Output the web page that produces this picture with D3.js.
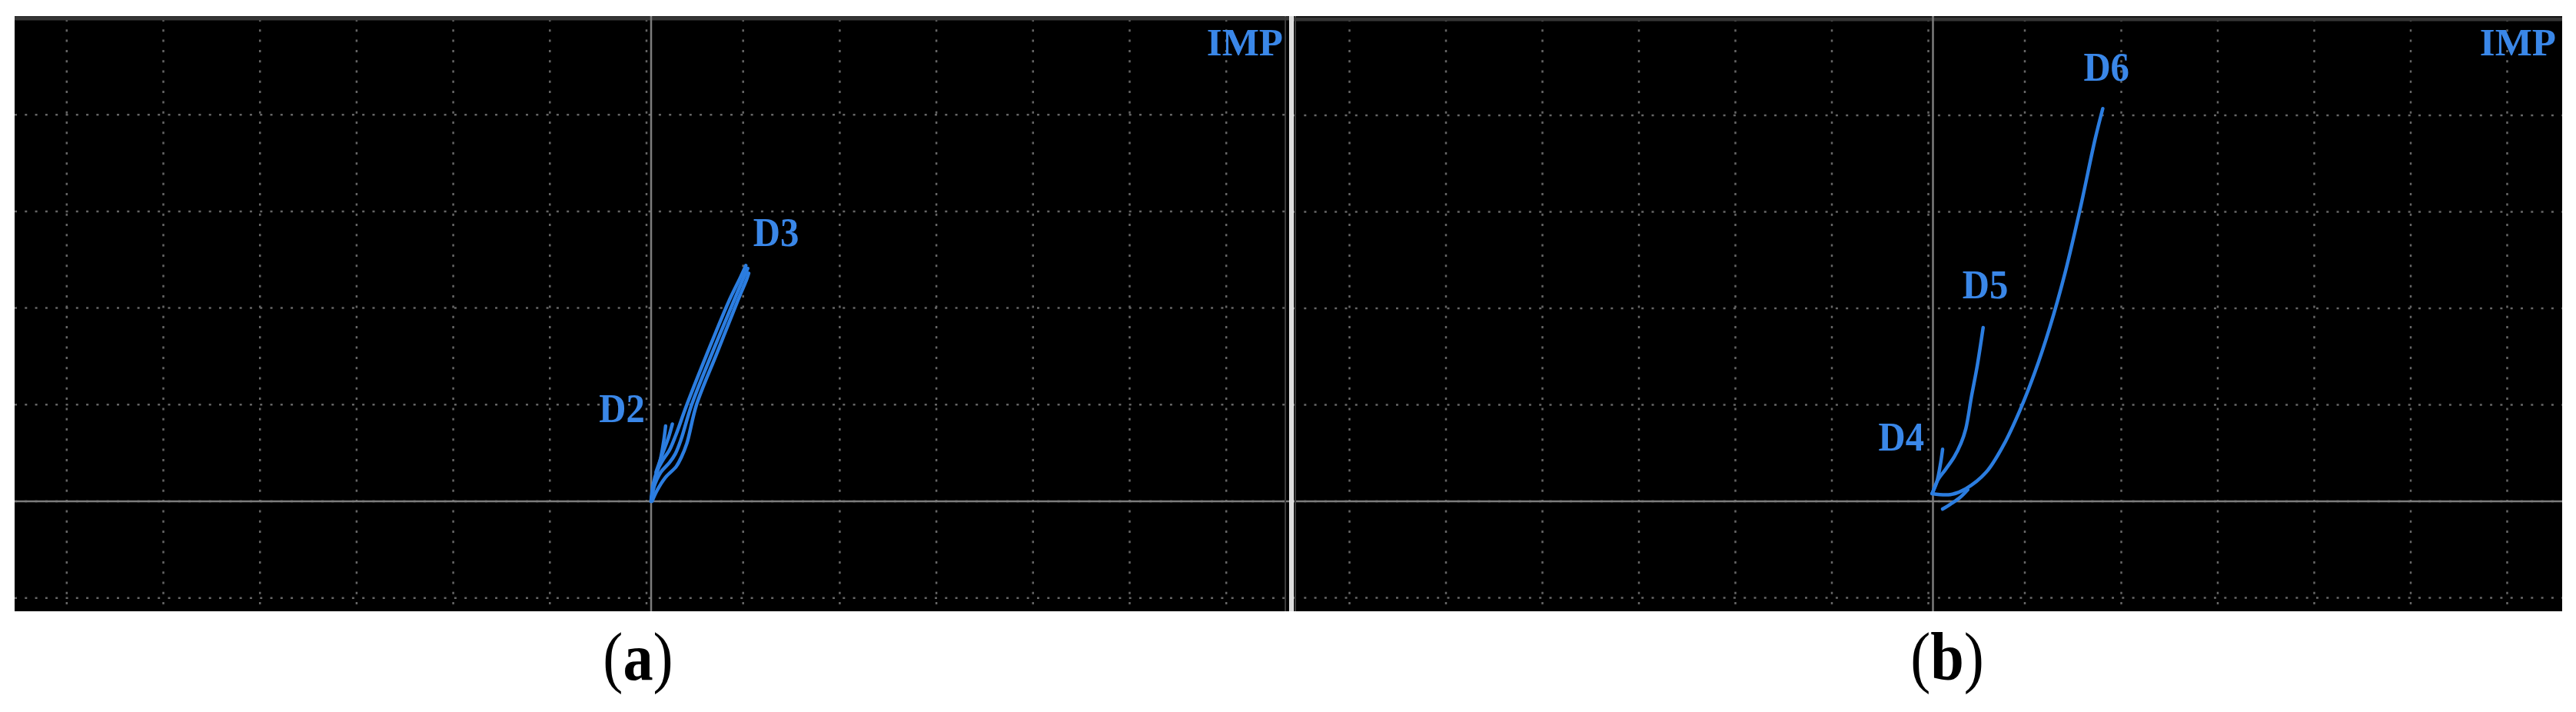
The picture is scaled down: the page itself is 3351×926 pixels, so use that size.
<!DOCTYPE html>
<html>
<head>
<meta charset="utf-8">
<script src="https://cdn.jsdelivr.net/npm/d3@7"></script>
<style>
  body { margin: 0; background: #fff; }
  text { font-family: "Liberation Serif", "Times New Roman", serif; }
</style>
</head>
<body>
<script>
// screen divisions of the analyser display
const gridX = [-6, -5, -4, -3, -2, -1, 0, 1, 2, 3, 4, 5, 6];
const gridY = [-1, 0, 1, 2, 3, 4];
const topDiv = 5;

// panel (a) traces, [x div, y div]
const d2Main = [[0, 0.02], [0.05, 0.25], [0.1, 0.45], [0.13, 0.62], [0.15, 0.78]];
const d2Side = [[0.05, 0.3], [0.12, 0.5], [0.18, 0.66], [0.22, 0.8]];
const d3Left = [[0, 0], [0.02, 0.17], [0.06, 0.31], [0.13, 0.44], [0.19, 0.53], [0.25, 0.67], [0.37, 1.0], [0.58, 1.53], [0.8, 2.06], [0.93, 2.33], [0.98, 2.44]];
const d3Mid = [[0, 0], [0.03, 0.15], [0.1, 0.3], [0.19, 0.4], [0.25, 0.49], [0.31, 0.64], [0.42, 1.0], [0.63, 1.53], [0.85, 2.06], [0.96, 2.32], [1.0, 2.41]];
const d3Right = [[0.01, 0], [0.06, 0.11], [0.15, 0.25], [0.26, 0.36], [0.31, 0.45], [0.37, 0.6], [0.47, 1.0], [0.68, 1.53], [0.89, 2.06], [0.99, 2.3], [1.01, 2.36]];

// panel (b) traces
const d4 = [[-0.01, 0.08], [0.04, 0.2], [0.08, 0.4], [0.1, 0.54]];
const d5 = [[0, 0.1], [0.05, 0.22], [0.13, 0.33], [0.22, 0.46], [0.29, 0.6], [0.34, 0.75], [0.4, 1.09], [0.46, 1.41], [0.52, 1.8]];
const d6 = [[-0.01, 0.08], [0.18, 0.07], [0.34, 0.13], [0.55, 0.3], [0.73, 0.58], [0.9, 0.94], [1.05, 1.32], [1.21, 1.8], [1.37, 2.37], [1.53, 3.05], [1.68, 3.75], [1.76, 4.07]];
const d6Hook = [[0.1, -0.08], [0.18, -0.03], [0.28, 0.04], [0.36, 0.12]];

const W = 3351, H = 926;
const scrTop = 21, scrBottom = 795, oy = 652;
const blue = "#2b7de0", labelBlue = "#3a87e8";

const panels = [
  { key: "a", left: 19, right: 1677, ox: 847, unit: 125.7, capX: 830,
    traces: [d2Main, d2Side, d3Left, d3Mid, d3Right],
    labels: [
      { text: "D2", at: d2Main, dx: -27, dy: -5, anchor: "end" },
      { text: "D3", at: d3Mid, dx: 7, dy: -29, anchor: "start" }
    ] },
  { key: "b", left: 1683, right: 3333, ox: 2514.5, unit: 125.5, capX: 2533,
    traces: [d4, d5, d6, d6Hook],
    labels: [
      { text: "D4", at: d4, dx: -24, dy: 2, anchor: "end" },
      { text: "D5", at: d5, dx: -27, dy: -38, anchor: "start" },
      { text: "D6", at: d6, dx: -25, dy: -36, anchor: "start" }
    ] }
];

const svg = d3.select("body").append("svg")
  .attr("width", W)
  .attr("height", H);

panels.forEach(p => {
  const x = d3.scaleLinear().domain([0, 1]).range([p.ox, p.ox + p.unit]);
  const y = d3.scaleLinear().domain([0, 1]).range([oy, oy - p.unit]);
  const shift = -6 / p.unit; // dotted grid sits a few px left of the solid axis

  svg.append("clipPath").attr("id", "clip-" + p.key)
    .append("rect")
    .attr("x", p.left).attr("y", scrTop)
    .attr("width", p.right - p.left).attr("height", scrBottom - scrTop);

  const g = svg.append("g").attr("clip-path", "url(#clip-" + p.key + ")");

  g.append("rect")
    .attr("x", p.left).attr("y", scrTop)
    .attr("width", p.right - p.left).attr("height", scrBottom - scrTop)
    .attr("fill", "#000");

  g.selectAll(".vgrid").data(gridX).join("line")
    .attr("x1", d => x(d + shift)).attr("x2", d => x(d + shift))
    .attr("y1", scrTop + 4).attr("y2", scrBottom)
    .attr("stroke", "#666")
    .attr("stroke-width", 2.5)
    .attr("stroke-dasharray", "3 10.3");

  g.selectAll(".hgrid").data(gridY).join("line")
    .attr("x1", p.left).attr("x2", p.right)
    .attr("y1", d => y(d)).attr("y2", d => y(d))
    .attr("stroke", "#666")
    .attr("stroke-width", 2.5)
    .attr("stroke-dasharray", "3 10.3");

  // solid top edge of the screen
  g.append("line")
    .attr("x1", p.left).attr("x2", p.right)
    .attr("y1", y(topDiv) + 0.5).attr("y2", y(topDiv) + 0.5)
    .attr("stroke", "#363636")
    .attr("stroke-width", 5);

  // axes
  g.append("line")
    .attr("x1", x(0)).attr("x2", x(0))
    .attr("y1", scrTop).attr("y2", scrBottom)
    .attr("stroke", "#7c7c7c").attr("stroke-width", 2.5);
  g.append("line")
    .attr("x1", p.left).attr("x2", p.right)
    .attr("y1", y(0)).attr("y2", y(0))
    .attr("stroke", "#7c7c7c").attr("stroke-width", 2.5);

  const line = d3.line()
    .x(d => x(d[0]))
    .y(d => y(d[1]))
    .curve(d3.curveCatmullRom);

  g.selectAll(".trace").data(p.traces).join("path")
    .attr("d", line)
    .attr("fill", "none")
    .attr("stroke", blue)
    .attr("stroke-width", 4.5)
    .attr("stroke-linecap", "round")
    .attr("stroke-linejoin", "round");

  g.selectAll(".lbl").data(p.labels).join("text")
    .attr("transform", d => "translate(" + (x(d.at[d.at.length - 1][0]) + d.dx) + "," +
      (y(d.at[d.at.length - 1][1]) + d.dy) + ") scale(0.92,1)")
    .attr("text-anchor", d => d.anchor)
    .attr("fill", labelBlue)
    .attr("font-weight", "bold")
    .attr("font-size", 53)
    .text(d => d.text);

  g.append("text")
    .attr("x", p.right - 8)
    .attr("y", 72)
    .attr("text-anchor", "end")
    .attr("fill", labelBlue)
    .attr("font-weight", "bold")
    .attr("font-size", 51)
    .text("IMP");

  const cap = svg.append("text")
    .attr("transform", "translate(" + p.capX + ",884) scale(0.89,1)")
    .attr("text-anchor", "middle")
    .attr("font-size", 88)
    .attr("fill", "#000");
  cap.append("tspan").text("(");
  cap.append("tspan").attr("font-weight", "bold").text(p.key);
  cap.append("tspan").text(")");
});

// frame edges and separator between the two screens
svg.append("line")
  .attr("x1", 1672).attr("x2", 1672).attr("y1", scrTop).attr("y2", scrBottom)
  .attr("stroke", "#3a3a3a").attr("stroke-width", 2);
svg.append("line")
  .attr("x1", 1685).attr("x2", 1685).attr("y1", scrTop).attr("y2", scrBottom)
  .attr("stroke", "#3a3a3a").attr("stroke-width", 2);
svg.append("rect")
  .attr("x", 1677.5).attr("y", scrTop)
  .attr("width", 5).attr("height", scrBottom - scrTop)
  .attr("fill", "#dcdcdc");
</script>
</body>
</html>
